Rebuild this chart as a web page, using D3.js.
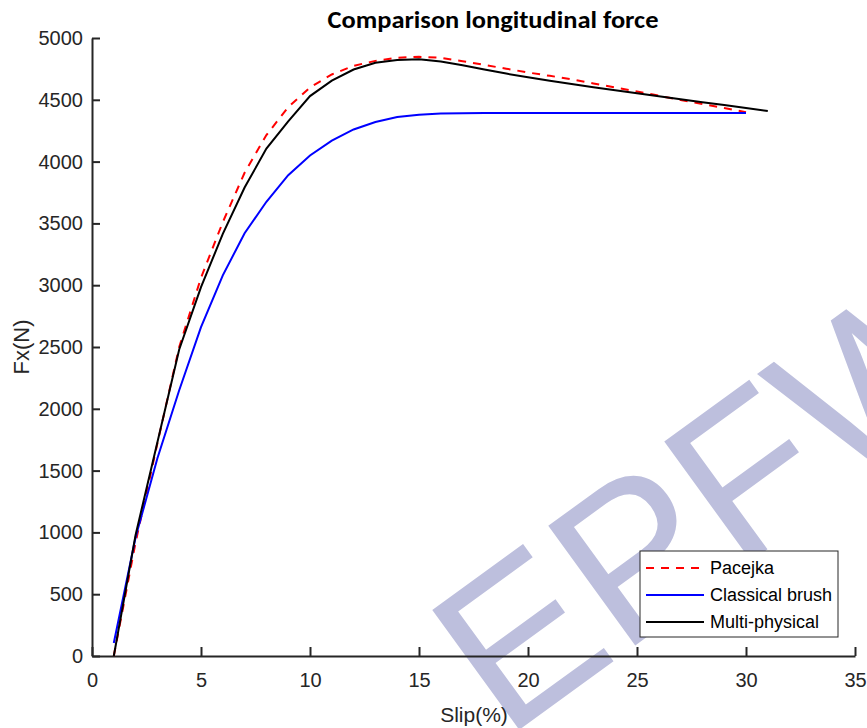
<!DOCTYPE html>
<html>
<head>
<meta charset="utf-8">
<script src="https://cdn.jsdelivr.net/npm/d3@7"></script>
<style>
  body { margin: 0; background: #fff; }
  svg { display: block; }
</style>
</head>
<body>
<script>
// slip values in %, forces in N
const slipA = d3.range(1, 31);
const slipB = d3.range(1, 32);

const pacejka = [0, 920, 1720, 2500, 3060, 3510, 3910, 4215, 4440, 4600, 4705, 4775, 4815, 4840, 4848,
  4840, 4812, 4782, 4752, 4721, 4694, 4666, 4632, 4600, 4567, 4533, 4498, 4466, 4433, 4400];
const brush = [105, 960, 1600, 2150, 2660, 3080, 3420, 3675, 3890, 4050, 4170, 4260, 4320, 4360, 4380,
  4390, 4392, 4393, 4393, 4393, 4393, 4393, 4393, 4393, 4393, 4393, 4393, 4393, 4393, 4393];
const multi = [0, 980, 1730, 2480, 2985, 3415, 3790, 4105, 4325, 4530, 4655, 4745, 4800, 4822, 4828,
  4810, 4780, 4745, 4712, 4682, 4655, 4628, 4602, 4578, 4553, 4529, 4505, 4481, 4457, 4433, 4410];

const xTicks = [0, 5, 10, 15, 20, 25, 30, 35];
const yTicks = d3.range(0, 5001, 500);
const names = ["Pacejka", "Classical brush", "Multi-physical"];

const width = 867, height = 728;
const margin = { top: 38, right: 12, bottom: 72, left: 92 };
const axisColor = "#262626";
const font = "'Liberation Sans', Arial, sans-serif";

const svg = d3.select("body").append("svg")
  .attr("width", width)
  .attr("height", height);

// watermark behind everything
svg.append("text")
  .attr("transform", "translate(505,740) rotate(-36)")
  .attr("font-family", font)
  .attr("font-size", 215)
  .attr("fill", "#bdbfdd")
  .text("EPFW");

const x = d3.scaleLinear().domain([0, 35]).range([margin.left, width - margin.right]);
const y = d3.scaleLinear().domain([0, 5000]).range([height - margin.bottom, margin.top]);

const xAxis = svg.append("g")
  .attr("transform", `translate(0,${y(0)})`)
  .call(d3.axisBottom(x).tickValues(xTicks).tickSizeInner(-9).tickSizeOuter(0).tickPadding(17));
const yAxis = svg.append("g")
  .attr("transform", `translate(${x(0)},0)`)
  .call(d3.axisLeft(y).tickValues(yTicks).tickFormat(d3.format("d"))
    .tickSizeInner(-8).tickSizeOuter(0).tickPadding(9));

[xAxis, yAxis].forEach(g => {
  g.select(".domain").attr("stroke", axisColor).attr("stroke-width", 2);
  g.selectAll(".tick line").attr("stroke", axisColor).attr("stroke-width", 2);
  g.selectAll(".tick text")
    .attr("fill", axisColor)
    .attr("font-family", font)
    .attr("font-size", 20);
});

const line = d3.line()
  .x(d => x(d[0]))
  .y(d => y(d[1]));

const series = [
  { name: names[0], pts: d3.zip(slipA, pacejka), color: "#ff0000", dash: "8,7" },
  { name: names[1], pts: d3.zip(slipA, brush), color: "#0000ff", dash: null },
  { name: names[2], pts: d3.zip(slipB, multi), color: "#000000", dash: null }
];

svg.append("g").selectAll("path")
  .data(series)
  .join("path")
  .attr("d", d => line(d.pts))
  .attr("fill", "none")
  .attr("stroke", d => d.color)
  .attr("stroke-width", 2)
  .attr("stroke-dasharray", d => d.dash);

// title and axis labels
svg.append("text")
  .attr("x", 493)
  .attr("y", 28)
  .attr("text-anchor", "middle")
  .attr("font-family", "Carlito, Lato, sans-serif")
  .attr("font-weight", "bold")
  .attr("font-size", 24)
  .attr("textLength", 331)
  .attr("lengthAdjust", "spacingAndGlyphs")
  .attr("fill", "#000")
  .text("Comparison longitudinal force");

svg.append("text")
  .attr("x", 474)
  .attr("y", 722)
  .attr("text-anchor", "middle")
  .attr("font-family", font)
  .attr("font-size", 21)
  .attr("fill", axisColor)
  .text("Slip(%)");

svg.append("text")
  .attr("transform", `translate(29,${(y(0) + y(5000)) / 2}) rotate(-90)`)
  .attr("text-anchor", "middle")
  .attr("font-family", font)
  .attr("font-size", 22)
  .attr("fill", axisColor)
  .text("Fx(N)");

// legend
const legend = svg.append("g").attr("transform", "translate(640,551)");
legend.append("rect")
  .attr("width", 198)
  .attr("height", 86)
  .attr("fill", "#fff")
  .attr("stroke", axisColor)
  .attr("stroke-width", 1);

const item = legend.selectAll("g.item")
  .data(series)
  .join("g")
  .attr("class", "item")
  .attr("transform", (d, i) => `translate(0,${17 + i * 27})`);
item.append("line")
  .attr("x1", 6).attr("x2", 64)
  .attr("stroke", d => d.color)
  .attr("stroke-width", 2)
  .attr("stroke-dasharray", d => d.dash);
item.append("text")
  .attr("x", 70)
  .attr("dy", "0.35em")
  .attr("font-family", font)
  .attr("font-size", 18)
  .attr("fill", "#000")
  .text(d => d.name);
</script>
</body>
</html>
